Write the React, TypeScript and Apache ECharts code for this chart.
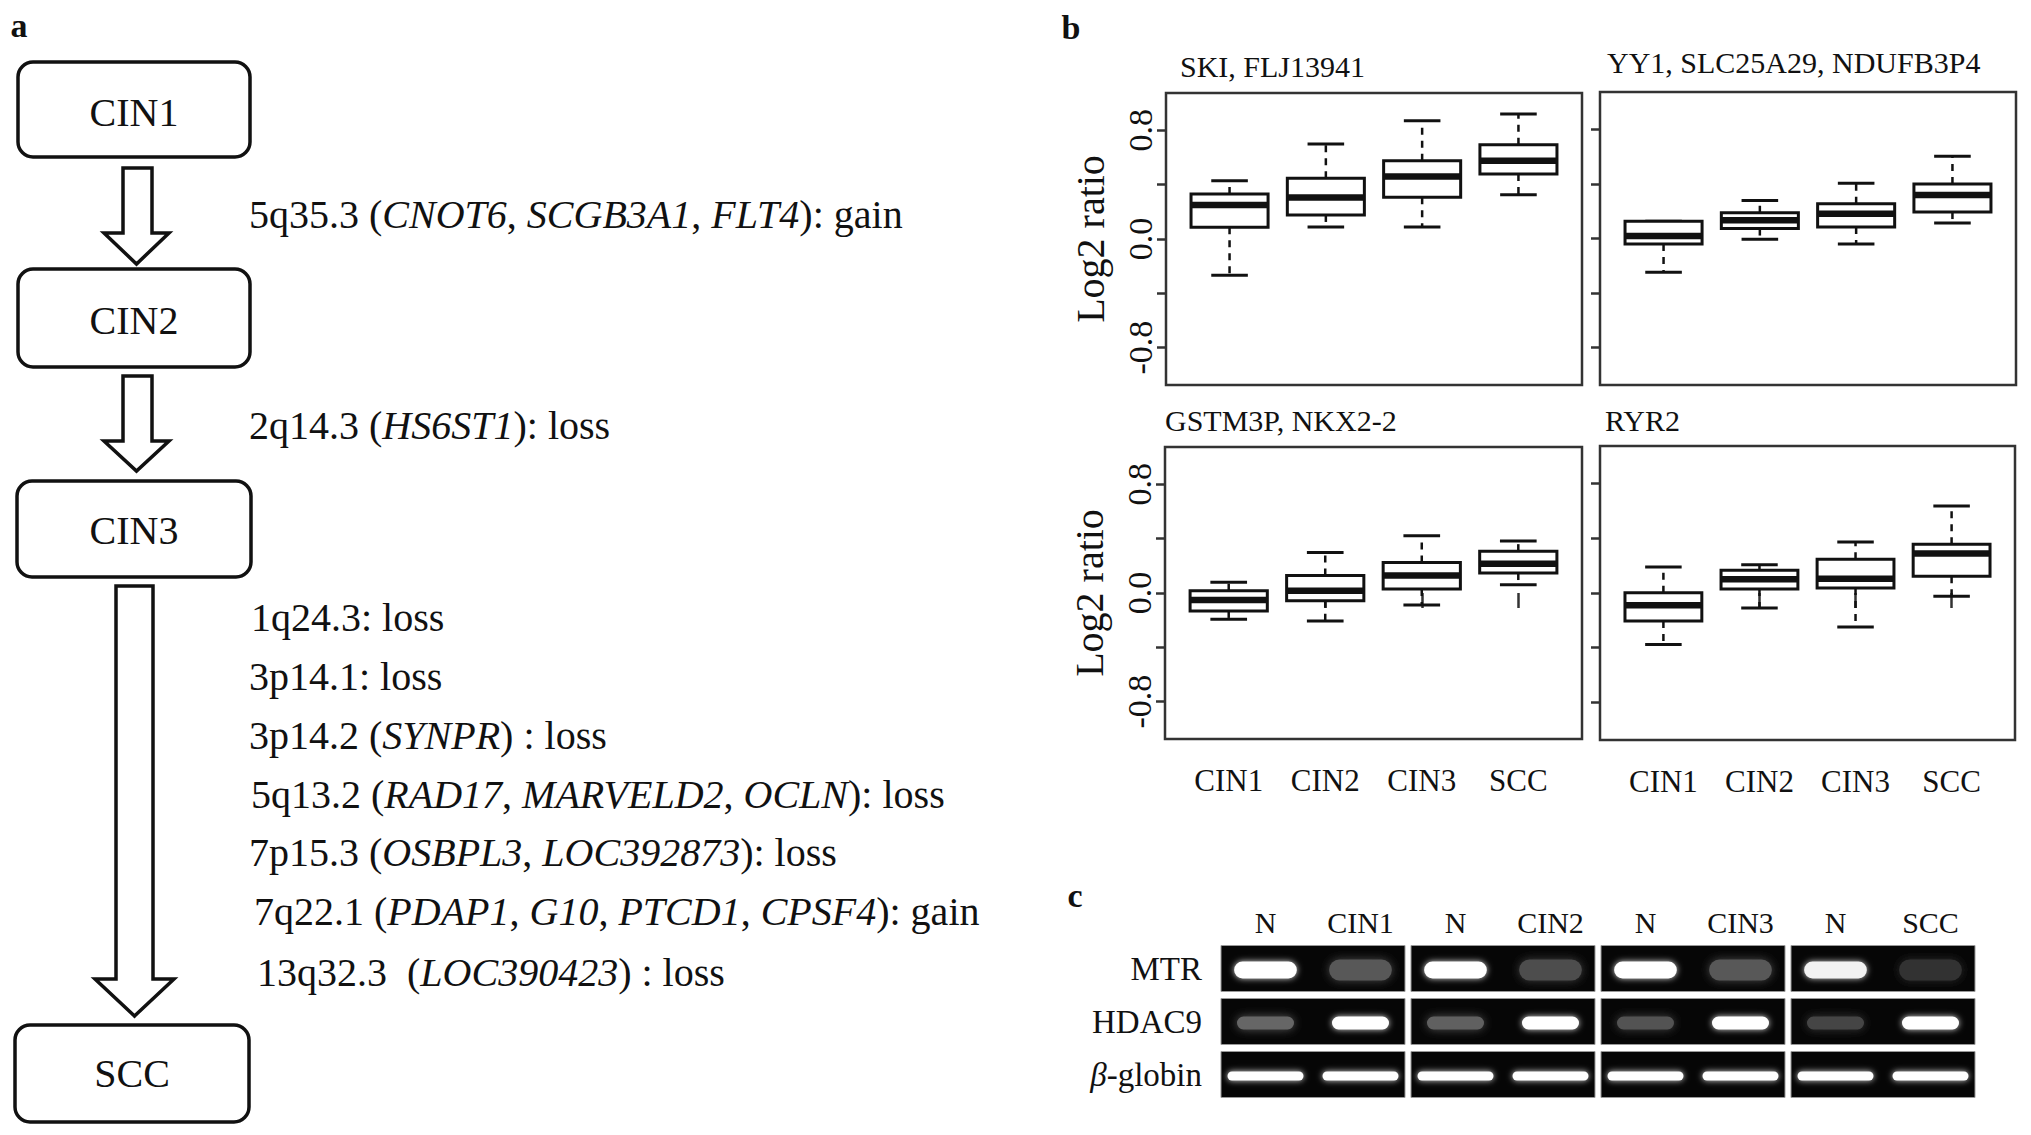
import React, { useEffect, useRef } from "react";
import * as echarts from "echarts";

// ---------- DATA ----------
// Panel a: progression stages and the alterations between them
const stages = ["CIN1", "CIN2", "CIN3", "SCC"];
const cin1ToCin2 = ["5q35.3 ({i|CNOT6}, {i|SCGB3A1}, {i|FLT4}): gain"];
const cin2ToCin3 = ["2q14.3 ({i|HS6ST1}): loss"];
const cin3ToScc = [
  "1q24.3: loss",
  "3p14.1: loss",
  "3p14.2 ({i|SYNPR}) : loss",
  "5q13.2 ({i|RAD17}, {i|MARVELD2}, {i|OCLN}): loss",
  "7p15.3 ({i|OSBPL3}, {i|LOC392873}): loss",
  "7q22.1 ({i|PDAP1}, {i|G10}, {i|PTCD1}, {i|CPSF4}): gain",
  "13q32.3  ({i|LOC390423}) : loss",
];

// Panel b: box plots, [lower whisker, Q1, median, Q3, upper whisker]
const groups = ["CIN1", "CIN2", "CIN3", "SCC"];
const geneTitles = ["SKI, FLJ13941", "YY1, SLC25A29, NDUFB3P4", "GSTM3P, NKX2-2", "RYR2"];
const skiFlj13941 = [
  [-0.266, 0.086, 0.251, 0.332, 0.428],
  [0.089, 0.177, 0.306, 0.448, 0.699],
  [0.089, 0.308, 0.461, 0.576, 0.871],
  [0.325, 0.478, 0.576, 0.694, 0.92],
];
const yy1Slc25a29 = [
  [-0.247, -0.041, 0.019, 0.126, 0.126],
  [-0.005, 0.073, 0.133, 0.189, 0.279],
  [-0.041, 0.085, 0.182, 0.255, 0.405],
  [0.114, 0.194, 0.32, 0.4, 0.604],
];
const gstm3pNkx22 = [
  [-0.194, -0.132, -0.052, 0.017, 0.08],
  [-0.206, -0.057, 0.017, 0.129, 0.298],
  [-0.089, 0.03, 0.129, 0.224, 0.422],
  [0.06, 0.147, 0.216, 0.308, 0.383],
];
const ryr2 = [
  [-0.376, -0.205, -0.09, 0.002, 0.19],
  [-0.11, 0.029, 0.1, 0.166, 0.207],
  [-0.249, 0.037, 0.105, 0.246, 0.373],
  [-0.024, 0.122, 0.288, 0.356, 0.637],
];
const yTickValues = [-0.8, -0.4, 0, 0.4, 0.8];
const yLabelValues = [-0.8, 0, 0.8];

// Panel c: RT-PCR gel, band intensity per lane (0..1)
const gelLanes = ["N", "CIN1", "N", "CIN2", "N", "CIN3", "N", "SCC"];
const gelGenes = ["MTR", "HDAC9", "β-globin"];
const mtrIntensity = [1.0, 0.35, 1.0, 0.3, 1.0, 0.35, 0.95, 0.2];
const hdac9Intensity = [0.4, 1.0, 0.38, 1.0, 0.32, 1.0, 0.27, 1.0];
const globinIntensity = [1.0, 1.0, 1.0, 1.0, 1.0, 1.0, 1.0, 1.0];

// ---------- LAYOUT ----------
const FONT = "Liberation Serif";
const INK = "#111";
const plotGrids = [
  { left: 1166, top: 93, width: 416, height: 292 },
  { left: 1600, top: 92, width: 416, height: 293 },
  { left: 1165, top: 447, width: 417, height: 292 },
  { left: 1600, top: 446, width: 415, height: 294 },
];
const titlePos = [
  [1180, 66],
  [1607, 62],
  [1165, 420],
  [1605, 420],
];
const gelGrid = { left: 1218, top: 942.5, width: 760, height: 159 };

const stageBoxes = [
  { x: 18, y: 62, w: 232, h: 95, ty: 112 },
  { x: 18, y: 269, w: 232, h: 98, ty: 320 },
  { x: 17, y: 481, w: 234, h: 96, ty: 530 },
  { x: 15, y: 1025, w: 234, h: 97, ty: 1073 },
];
const arrows = [
  { L: 123, R: 152, T: 168, B: 233, HL: 104, HR: 169, tip: 264 },
  { L: 123, R: 152, T: 376, B: 441, HL: 104, HR: 169, tip: 471 },
  { L: 116, R: 153, T: 586, B: 979, HL: 95, HR: 174, tip: 1016 },
];
const textLayouts = [
  [{ x: 249, y: 214 }],
  [{ x: 249, y: 425 }],
  [
    { x: 251, y: 617 },
    { x: 249, y: 676 },
    { x: 249, y: 735 },
    { x: 251, y: 794 },
    { x: 249, y: 852 },
    { x: 254, y: 911 },
    { x: 257, y: 972 },
  ],
];

function buildOption() {
  const geneData = [skiFlj13941, yy1Slc25a29, gstm3pNkx22, ryr2];
  const grids: any[] = plotGrids.map((g) => ({
    ...g,
    show: true,
    borderColor: "#333",
    borderWidth: 2.5,
    backgroundColor: "transparent",
    containLabel: false,
    outerBoundsMode: "none",
  }));
  grids.push({ ...gelGrid, show: false, containLabel: false, outerBoundsMode: "none" });

  const xAxes: any[] = [];
  const yAxes: any[] = [];
  const series: any[] = [];

  plotGrids.forEach((_, i) => {
    const bottomRow = i >= 2;
    const leftCol = i % 2 === 0;
    xAxes.push({
      gridIndex: i,
      type: "value",
      min: 0.34,
      max: 4.66,
      axisLine: { show: false },
      splitLine: { show: false },
      axisTick: {
        show: bottomRow,
        customValues: [1, 2, 3, 4],
        length: 15,
        lineStyle: { color: "#333", width: 2.5 },
      },
      axisLabel: {
        show: bottomRow,
        customValues: [1, 2, 3, 4],
        formatter: (v: number) => groups[Math.round(v) - 1],
        fontSize: 31,
        fontFamily: FONT,
        color: INK,
        margin: 26,
      },
    });
    yAxes.push({
      gridIndex: i,
      type: "value",
      min: -1.075,
      max: 1.075,
      axisLine: { show: false },
      splitLine: { show: false },
      axisTick: {
        show: true,
        customValues: yTickValues,
        length: 9,
        lineStyle: { color: "#333", width: 2.5 },
      },
      axisLabel: {
        show: leftCol,
        customValues: yLabelValues,
        rotate: 90,
        margin: 9,
        formatter: (v: number) => v.toFixed(1),
        fontSize: 34,
        fontFamily: FONT,
        color: INK,
      },
      name: leftCol ? "Log2 ratio" : "",
      nameLocation: "middle",
      nameRotate: 90,
      nameGap: 56,
      nameTextStyle: { fontSize: 40, fontFamily: FONT, color: INK },
    });
    series.push({
      type: "custom",
      xAxisIndex: i,
      yAxisIndex: i,
      encode: { x: 0, y: [1, 2, 3, 4, 5] },
      data: geneData[i].map((s, k) => [k + 1, ...s]),
      renderItem: (params: any, api: any) => {
        const x = api.value(0);
        const lo = api.coord([x, api.value(1)]);
        const q1 = api.coord([x, api.value(2)]);
        const med = api.coord([x, api.value(3)]);
        const q3 = api.coord([x, api.value(4)]);
        const hi = api.coord([x, api.value(5)]);
        const cx = med[0];
        const halfBox = api.size([0.4, 0])[0];
        const halfCap = api.size([0.19, 0])[0];
        const dash = { stroke: INK, lineWidth: 2.5, lineDash: [7, 6] };
        const solid = { stroke: INK, lineWidth: 3 };
        return {
          type: "group",
          children: [
            { type: "line", shape: { x1: cx, y1: q3[1], x2: cx, y2: hi[1] }, style: dash },
            { type: "line", shape: { x1: cx, y1: q1[1], x2: cx, y2: lo[1] }, style: dash },
            { type: "line", shape: { x1: cx - halfCap, y1: hi[1], x2: cx + halfCap, y2: hi[1] }, style: solid },
            { type: "line", shape: { x1: cx - halfCap, y1: lo[1], x2: cx + halfCap, y2: lo[1] }, style: solid },
            {
              type: "rect",
              shape: { x: cx - halfBox, y: q3[1], width: halfBox * 2, height: q1[1] - q3[1] },
              style: { fill: "#fff", stroke: INK, lineWidth: 3 },
            },
            {
              type: "line",
              shape: { x1: cx - halfBox, y1: med[1], x2: cx + halfBox, y2: med[1] },
              style: { stroke: INK, lineWidth: 6.5 },
            },
          ],
        };
      },
    });
  });

  // Gel grid (index 4)
  xAxes.push({
    gridIndex: 4,
    type: "category",
    position: "top",
    data: gelLanes.map((_, i) => String(i)),
    axisLine: { show: false },
    axisTick: { show: false },
    splitLine: { show: false },
    axisLabel: {
      interval: 0,
      margin: 5,
      formatter: (v: string) => gelLanes[Number(v)],
      fontSize: 30,
      fontFamily: FONT,
      color: INK,
    },
  });
  yAxes.push({
    gridIndex: 4,
    type: "category",
    inverse: true,
    data: gelGenes,
    axisLine: { show: false },
    axisTick: { show: false },
    splitLine: { show: false },
    axisLabel: {
      margin: 16,
      fontSize: 33,
      fontFamily: FONT,
      color: INK,
      formatter: (v: string) => (v === "β-globin" ? "{i|β}-globin" : v),
      rich: { i: { fontStyle: "italic", fontSize: 33, fontFamily: FONT, color: INK } },
    },
  });

  const blockData: number[][] = [];
  gelGenes.forEach((_, r) => {
    for (let b = 0; b < gelLanes.length / 2; b++) blockData.push([2 * b, r]);
  });
  series.push({
    type: "custom",
    xAxisIndex: 4,
    yAxisIndex: 4,
    data: blockData,
    z: 1,
    renderItem: (params: any, api: any) => {
      const c = api.coord([api.value(0), api.value(1)]);
      const s = api.size([1, 1]);
      return {
        type: "rect",
        shape: { x: c[0] - s[0] / 2 + 3, y: c[1] - s[1] / 2 + 3, width: s[0] * 2 - 6, height: s[1] - 7 },
        style: { fill: "#060606", stroke: "#999", lineWidth: 1 },
      };
    },
  });

  const intensities = [mtrIntensity, hdac9Intensity, globinIntensity];
  const bandData: number[][] = [];
  intensities.forEach((arr, r) => arr.forEach((k, l) => bandData.push([l, r, k])));
  series.push({
    type: "custom",
    xAxisIndex: 4,
    yAxisIndex: 4,
    data: bandData,
    z: 2,
    renderItem: (params: any, api: any) => {
      const row = api.value(1);
      const k = api.value(2);
      const c = api.coord([api.value(0), row]);
      const s = api.size([1, 1]);
      const wFrac = [0.66, 0.6, 0.8][row];
      const bright = k > 0.8;
      const h = ([17, 13, 9][row] as number) + (bright ? 0 : row === 0 ? 4 : 0);
      const w = s[0] * wFrac;
      const g = Math.round(255 * k);
      return {
        type: "rect",
        shape: { x: c[0] - w / 2, y: c[1] - h / 2 + 1, width: w, height: h, r: h / 2 },
        style: {
          fill: `rgb(${g},${g},${g})`,
          shadowBlur: bright ? 6 : 10,
          shadowColor: `rgba(${g},${g},${g},0.85)`,
        },
      };
    },
  });

  // ---------- graphic (panel a, titles, letters) ----------
  const graphic: any[] = [];
  const letter = (t: string, x: number, y: number) => ({
    type: "text",
    x,
    y,
    style: { text: t, fontSize: 34, fontWeight: "bold", fontFamily: FONT, fill: INK, align: "center", verticalAlign: "middle" },
  });
  graphic.push(letter("a", 19, 25), letter("b", 1071, 27), letter("c", 1075, 895));

  stageBoxes.forEach((b, i) => {
    graphic.push({
      type: "rect",
      shape: { x: b.x, y: b.y, width: b.w, height: b.h, r: 15 },
      style: { fill: "#fff", stroke: INK, lineWidth: 3.5 },
    });
    graphic.push({
      type: "text",
      x: b.x + b.w / 2,
      y: b.ty,
      style: { text: stages[i], fontSize: 40, fontFamily: FONT, fill: INK, align: "center", verticalAlign: "middle" },
    });
  });
  arrows.forEach((a) => {
    const C = (a.HL + a.HR) / 2;
    graphic.push({
      type: "polygon",
      shape: {
        points: [
          [a.L, a.T],
          [a.R, a.T],
          [a.R, a.B],
          [a.HR, a.B],
          [C, a.tip],
          [a.HL, a.B],
          [a.L, a.B],
        ],
      },
      style: { fill: "#fff", stroke: INK, lineWidth: 3.5, lineJoin: "miter" },
    });
  });
  [cin1ToCin2, cin2ToCin3, cin3ToScc].forEach((lines, gi) => {
    lines.forEach((t, li) => {
      const p = textLayouts[gi][li];
      graphic.push({
        type: "text",
        x: p.x,
        y: p.y,
        style: {
          text: t,
          fontSize: 40,
          fontFamily: FONT,
          fill: INK,
          align: "left",
          verticalAlign: "middle",
          rich: { i: { fontStyle: "italic", fontSize: 40, fontFamily: FONT, fill: INK } },
        },
      });
    });
  });
  geneTitles.forEach((t, i) => {
    graphic.push({
      type: "text",
      x: titlePos[i][0],
      y: titlePos[i][1],
      style: { text: t, fontSize: 30, fontFamily: FONT, fill: INK, align: "left", verticalAlign: "middle" },
    });
  });

  return {
    animation: false,
    backgroundColor: "#fff",
    grid: grids,
    xAxis: xAxes,
    yAxis: yAxes,
    series,
    graphic,
  };
}

export default function App() {
  const ref = useRef<HTMLDivElement>(null);
  useEffect(() => {
    if (!ref.current) return;
    const chart = echarts.init(ref.current, null, { renderer: "svg" });
    chart.setOption(buildOption() as any);
    return () => chart.dispose();
  }, []);
  return (
    <div
      ref={ref}
      style={{ position: "fixed", left: 0, top: 0, width: 2031, height: 1135, background: "#fff" }}
    />
  );
}
